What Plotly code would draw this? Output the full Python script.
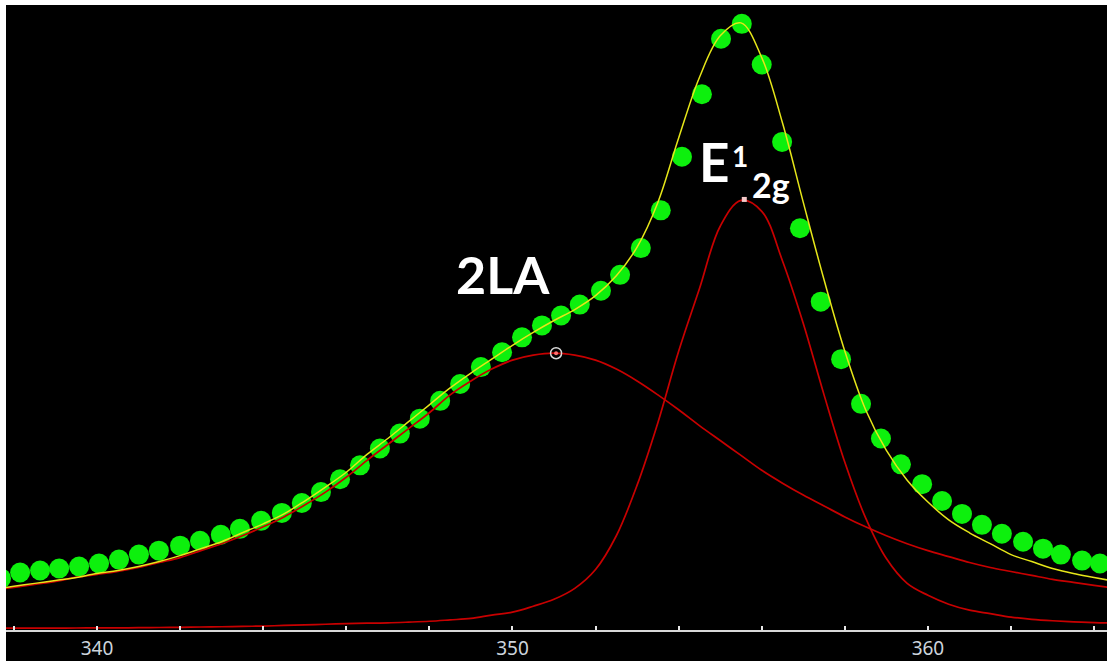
import plotly.graph_objects as go

# ---------------- data ----------------
# Raman shift grid of the fitted curves (cm^-1)
fit_x = [337.5, 338.0, 338.5, 339.0, 339.5, 340.0, 340.5, 341.0, 341.5, 342.0,
         342.5, 343.0, 343.5, 344.0, 344.5, 345.0, 345.5, 346.0, 346.5, 347.0,
         347.5, 348.0, 348.5, 349.0, 349.5, 350.0, 350.5, 351.0, 351.5, 352.0,
         352.5, 353.0, 353.5, 354.0, 354.5, 355.0, 355.5, 356.0, 356.5, 357.0,
         357.5, 358.0, 358.5, 359.0, 359.5, 360.0, 360.5, 361.0, 361.5, 362.0,
         362.5, 363.0, 363.5, 364.0, 364.5]

# 2LA component (red, broad)
la2_y = [39, 42, 45, 48, 52, 55, 58, 62, 67, 72,
         79, 86, 94, 103, 113, 125, 138, 153, 170, 186,
         202, 218, 236, 250, 262, 271, 276, 278, 276, 271,
         262, 250, 236, 221, 205, 190, 175, 160, 147, 135,
         124, 113, 103, 94, 86, 79, 73, 67, 62, 58,
         54, 50, 47, 44, 41]

# E1_2g component (red, narrow)
e2g_y = [0.8, 0.85, 0.9, 0.95, 1.0, 1.1, 1.2, 1.3, 1.5, 1.7,
         2.0, 2.3, 2.6, 3.0, 3.6, 4.2, 4.8, 5.4, 5.9, 6.2,
         6.9, 7.8, 9.2, 10.7, 14, 17, 23, 30, 41, 60,
         94, 145, 208, 280, 343, 406, 432, 421, 371, 308,
         236, 168, 112, 71, 46, 34, 25, 19, 15.5, 12,
         9.8, 8.3, 7.2, 6.4, 6.0]

# cumulative fit (yellow)
total_y = [40, 43, 46, 49, 52, 56, 59, 63, 68, 74,
           81, 88, 97, 106, 116, 129, 143, 158, 176, 192,
           209, 226, 243, 258, 272, 286, 299, 311, 322, 336,
           356, 385, 430, 495, 556, 598, 611, 576, 510, 430,
           352, 280, 221, 180, 150, 128, 110, 97, 86, 75,
           68, 61, 56, 52, 48]

# measured spectrum (green dots)
data_x = [337.69, 338.15, 338.63, 339.09, 339.57, 340.05, 340.53, 341.01, 341.49, 342.00,
          342.48, 342.98, 343.44, 343.95, 344.45, 344.93, 345.39, 345.85, 346.33, 346.81,
          347.29, 347.77, 348.26, 348.74, 349.24, 349.75, 350.23, 350.71, 351.17, 351.62,
          352.13, 352.59, 353.09, 353.57, 354.08, 354.56, 355.02, 355.52, 356.00, 356.49,
          356.92, 357.42, 357.91, 358.39, 358.87, 359.35, 359.86, 360.34, 360.82, 361.30,
          361.78, 362.29, 362.77, 363.20, 363.71, 364.14]
data_y = [51, 57, 59, 61, 63, 66, 70, 75, 79, 84,
          89, 95, 101, 109, 117, 127, 138, 151, 165, 182,
          197, 212, 230, 247, 264, 279, 294, 306, 316, 327,
          341, 357, 384, 422, 476, 539, 595, 610, 569, 491,
          404, 330, 272, 227, 192, 166, 146, 129, 116, 105,
          96, 88, 81, 75, 69, 66]

# peak positions of the two components
la2_peak_x = [351.05]
la2_peak_y = [278]
e2g_peak_x = [355.58]
e2g_peak_y = [433]

# axis ticks
tick_vals = [338, 340, 342, 344, 346, 348, 350, 352, 354, 356, 358, 360, 362, 364]
tick_text = ["", "340", "", "", "", "", "350", "", "", "", "", "360", "", ""]

# ---------------- figure ----------------
GREEN = "#0df00d"
RED = "#c80000"
YELLOW = "#e6e619"

fig = go.Figure()
fig.add_trace(go.Scatter(x=data_x, y=data_y, mode="markers",
                         marker=dict(symbol="circle", size=20, color=GREEN,
                                     line=dict(width=0)),
                         hoverinfo="skip"))
fig.add_trace(go.Scatter(x=fit_x, y=la2_y, mode="lines",
                         line=dict(color=RED, width=1.7, shape="spline"),
                         hoverinfo="skip"))
fig.add_trace(go.Scatter(x=fit_x, y=e2g_y, mode="lines",
                         line=dict(color=RED, width=1.7, shape="spline"),
                         hoverinfo="skip"))
fig.add_trace(go.Scatter(x=fit_x, y=total_y, mode="lines",
                         line=dict(color=YELLOW, width=1.5, shape="spline"),
                         hoverinfo="skip"))
fig.add_trace(go.Scatter(x=la2_peak_x, y=la2_peak_y, mode="markers",
                         marker=dict(symbol="circle-open", size=11, color="#d8d8d8",
                                     line=dict(width=1.5, color="#d8d8d8")),
                         hoverinfo="skip"))
fig.add_trace(go.Scatter(x=la2_peak_x, y=la2_peak_y, mode="markers",
                         marker=dict(symbol="circle", size=4, color="#ff7070"),
                         hoverinfo="skip"))
fig.add_trace(go.Scatter(x=e2g_peak_x, y=e2g_peak_y, mode="markers",
                         marker=dict(symbol="square", size=5, color="#f4c8c8"),
                         hoverinfo="skip"))

PW = 1101.0
PH = 630.0
fig.update_layout(
    width=1107, height=661,
    margin=dict(l=6, r=0, t=5, b=26, pad=0),
    paper_bgcolor="black",
    plot_bgcolor="black",
    showlegend=False,
    xaxis=dict(range=[337.81, 364.31], showgrid=False, zeroline=False,
               showline=True, linecolor="#d8d8d8", linewidth=2,
               ticks="inside", ticklen=4, tickwidth=1.5, tickcolor="#e8e8e8",
               tickmode="array", tickvals=tick_vals, ticktext=tick_text,
               tickfont=dict(family="Noto Sans", size=19, color="#ccd4dc"),
               fixedrange=True),
    yaxis=dict(range=[-1, 629], visible=False, showgrid=False, zeroline=False,
               fixedrange=True),
    shapes=[
        dict(type="rect", xref="paper", yref="paper",
             x0=-7 / PW, x1=0, y0=-40 / PH, y1=1 + 6 / PH,
             fillcolor="white", line=dict(width=0)),
        dict(type="rect", xref="paper", yref="paper",
             x0=-7 / PW, x1=1.01, y0=1, y1=1 + 6 / PH,
             fillcolor="white", line=dict(width=0)),
    ],
    annotations=[
        dict(text="<b>2LA</b>", x=349.77, y=358, xref="x", yref="y",
             xanchor="center", yanchor="middle", showarrow=False,
             font=dict(family="Lato", size=52, color="white")),
        dict(text="<b>E</b>", x=354.44, y=471, xref="x", yref="y",
             xanchor="left", yanchor="middle", showarrow=False,
             font=dict(family="Lato", size=53, color="white")),
        dict(text="<b>1</b>", x=355.24, y=477, xref="x", yref="y",
             xanchor="left", yanchor="middle", showarrow=False,
             font=dict(family="Lato", size=28, color="white")),
        dict(text="<b>2g</b>", x=355.72, y=448, xref="x", yref="y",
             xanchor="left", yanchor="middle", showarrow=False,
             font=dict(family="Lato", size=34, color="white")),
    ],
)

fig.write_html(
    "out.html",
    config={"displayModeBar": False},
    post_script="document.body.style.margin='0px';document.body.style.overflow='hidden';",
)
